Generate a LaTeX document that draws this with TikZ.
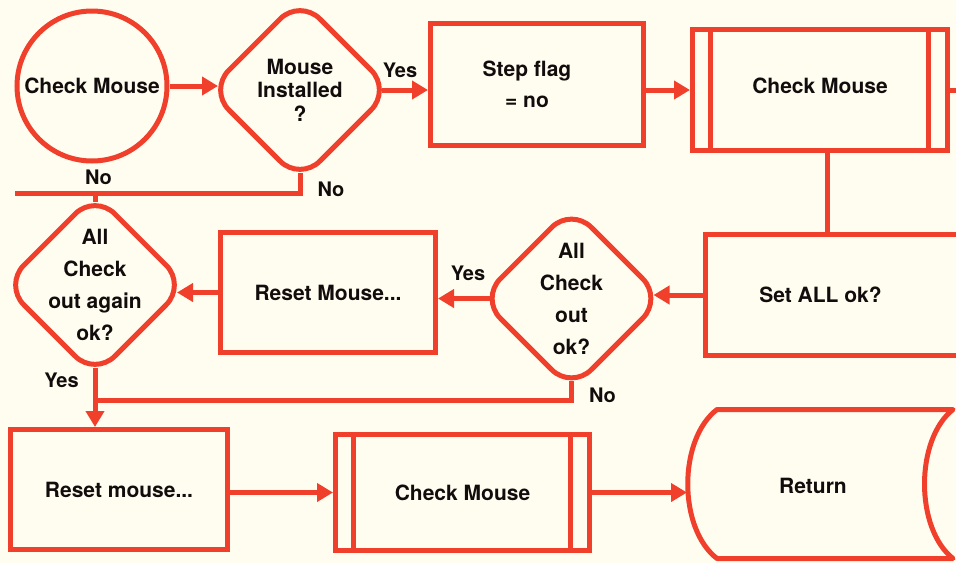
\documentclass[tikz,border=0pt]{standalone}
\usepackage{fontspec}
\setmainfont{TeX Gyre Heros}
\usetikzlibrary{shapes.geometric,arrows.meta,calc}
\definecolor{fcred}{RGB}{240,64,44}
\definecolor{fcbg}{RGB}{255,253,240}
\definecolor{fctext}{RGB}{18,12,12}
\begin{document}
\begin{tikzpicture}[x=1pt,y=-1pt,
  every node/.style={font=\fontsize{21}{24}\selectfont\bfseries, text=fctext},
  box/.style={rectangle, draw=fcred, line width=5pt, align=center, inner sep=0pt},
  subr/.style={box, path picture={
     \draw[draw=fcred, line width=4.5pt]
       ([xshift=18pt]path picture bounding box.north west) -- ([xshift=18pt]path picture bounding box.south west)
       ([xshift=-19pt]path picture bounding box.north east) -- ([xshift=-19pt]path picture bounding box.south east);}},
  dec/.style={diamond, aspect=1, draw=fcred, line width=5pt, rounded corners=28pt, minimum size=184pt, inner sep=0pt},
  dectext/.style={align=center, inner sep=0pt},
  term/.style={circle, draw=fcred, line width=5pt, minimum size=150pt, inner sep=0pt},
  lbl/.style={font=\fontsize{20}{24}\selectfont\bfseries, inner sep=0pt},
  conn/.style={draw=fcred, line width=5pt},
  arr/.style={conn, -{Triangle[length=16pt,width=18pt]}},
]
\useasboundingbox (0,0) rectangle (956,563);
\clip (0,0) rectangle (956,563);
\fill[fcbg] (0,0) rectangle (956,563);

% nodes
\node[term] (circ) at (92,86) {Check Mouse};
\node[dec, label={[name=mitxt, dectext, font=\fontsize{21}{23.5}\selectfont\bfseries]center:Mouse\\Installed\\?}] (mi) at (300,90) {};
\node[box, minimum width=213pt, minimum height=122pt, label={[name=steptxt, dectext, xshift=-10pt, font=\fontsize{21}{31}\selectfont\bfseries]center:Step flag\\= no}] (step) at (537,84.5) {};
\node[subr, minimum width=255pt, minimum height=121pt, label={[name=sub1txt, yshift=4pt]center:Check Mouse}] (sub1) at (820,90) {};
\node[box, minimum width=270pt, minimum height=121pt, label={[name=setalltxt, xshift=-20pt]center:Set ALL ok?}] (setall) at (840.5,295) {};
\node[dec, label={[name=acotxt, dectext, font=\fontsize{21}{32}\selectfont\bfseries]center:All\\Check\\out\\ok?}] (aco) at (571.5,298.5) {};
\node[box, minimum width=215pt, minimum height=120pt] (reset1) at (328,292.5) {Reset Mouse...};
\node[dec, label={[name=acoatxt, dectext, font=\fontsize{21}{32}\selectfont\bfseries]center:All\\Check\\out again\\ok?}] (acoa) at (95,285) {};
\node[box, minimum width=217pt, minimum height=120pt] (reset2) at (119,489.5) {Reset mouse...};
\node[subr, minimum width=254pt, minimum height=116pt] (sub2) at (462.5,492.5) {Check Mouse};
\node[minimum width=266pt, minimum height=149pt, inner sep=0pt, outer sep=0pt, label={[name=rettxt, xshift=-7pt, yshift=-2pt]center:Return}] (ret) at (820,484) {};

% return outline
\draw[conn, line join=round]
  ($(ret.north west)+(30,0)$) -- (ret.north east)
  .. controls ($(ret.north east)+(-38,30)$) and ($(ret.south east)+(-38,-30)$) .. (ret.south east)
  -- ($(ret.south west)+(30,0)$)
  .. controls ($(ret.south west)+(-9,-30)$) and ($(ret.north west)+(-9,30)$) .. ($(ret.north west)+(30,0)$)
  -- cycle;

% helper coordinates
\coordinate (miB) at ([yshift=11.6pt]mi.south);
\coordinate (acoB) at ([yshift=11.6pt]aco.south);
\coordinate (acoaB) at ([yshift=11.6pt]acoa.south);
\coordinate (acoaT) at ([yshift=-11.6pt]acoa.north);
\coordinate (noL) at (15,193);
\coordinate (j2) at (95,400);
\coordinate (offR) at (962,90);

% connectors
\draw[arr, shorten >=-12.5pt] (circ.east) -- (circ.east -| mi.west);
\draw[arr, shorten <=-12.5pt] (mi.east) -- (mi.east -| step.west);
\draw[arr] (step.east |- sub1.west) -- (sub1.west);
\draw[conn] (sub1.east) -- (offR);
\draw[conn] ([xshift=7pt]sub1.south) -- ([xshift=7pt]sub1.south |- setall.north);
\draw[arr, shorten >=-12.5pt] (setall.west) -- (setall.west -| aco.east);
\draw[arr, shorten <=-12.5pt] (aco.west) -- (aco.west -| reset1.east);
\draw[arr, shorten >=-12.5pt] (reset1.west) -- (reset1.west -| acoa.east);
\draw[conn] (miB) |- (noL);
\draw[conn] (acoaT) -- (acoaT |- noL);
\draw[conn] (acoB) |- (j2);
\draw[arr] (acoaB) -- (j2) -- (j2 |- reset2.north);
\draw[arr] (reset2.east |- sub2.west) -- (sub2.west);
\draw[arr] (sub2.east) -- (sub2.east -| ret.west);

% branch labels
\node[lbl] (yes1) at (400,70) {Yes};
\node[lbl] (no1) at (331,189.5) {No};
\node[lbl] (no2) at (98.5,177.5) {No};
\node[lbl] (yes2) at (468,273.5) {Yes};
\node[lbl] (yes3) at (61.5,380) {Yes};
\node[lbl] (no3) at (602.5,395.5) {No};
\end{tikzpicture}
\end{document}
